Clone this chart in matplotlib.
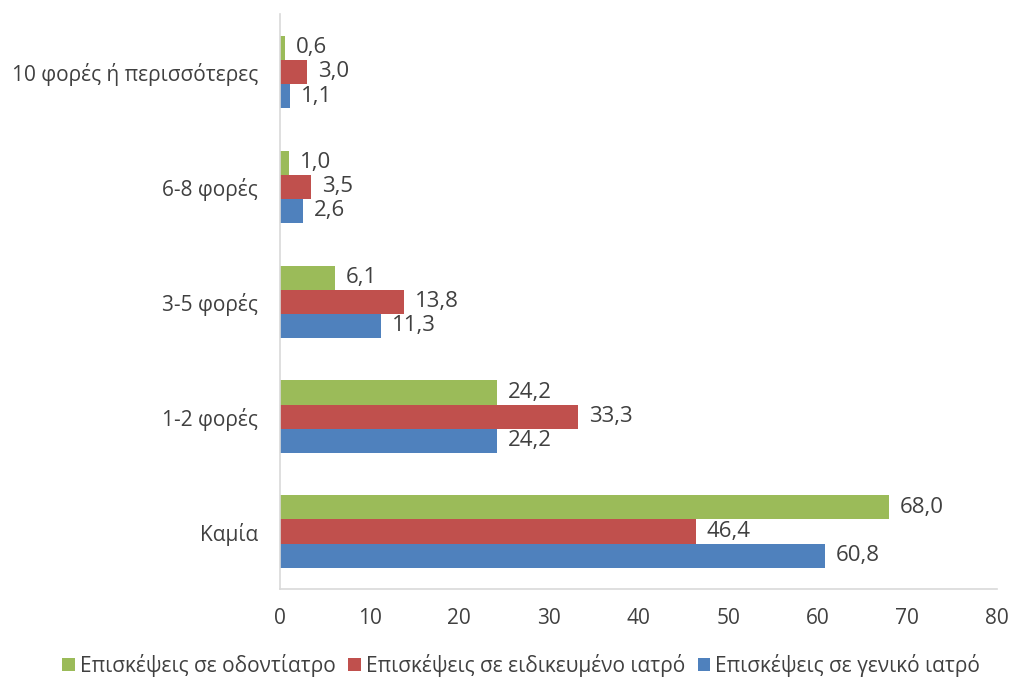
import numpy as np
import matplotlib
matplotlib.use('Agg')
import matplotlib.pyplot as plt

plt.rcParams['font.family'] = ['Open Sans', 'DejaVu Sans']

categories = ['Καμία', '1-2 φορές', '3-5 φορές', '6-8 φορές', '10 φορές ή περισσότερες']
general = [60.8, 24.2, 11.3, 2.6, 1.1]
specialist = [46.4, 33.3, 13.8, 3.5, 3.0]
dentist = [68.0, 24.2, 6.1, 1.0, 0.6]

series = [
    ('Επισκέψεις σε γενικό ιατρό', general, '#4F81BD'),
    ('Επισκέψεις σε ειδικευμένο ιατρό', specialist, '#C0504D'),
    ('Επισκέψεις σε οδοντίατρο', dentist, '#9BBB59'),
]

text_color = '#404040'
fig = plt.figure(figsize=(10.12, 6.86), dpi=100)
ax = fig.add_axes([0.2767, 0.1414, 0.7085, 0.8375])

y = np.arange(len(categories))
h = 0.21
for i, (name, vals, col) in enumerate(series):
    pos = y + (i - 1) * h
    bars = ax.barh(pos, vals, height=h, color=col, label=name)
    for b, v in zip(bars, vals):
        ax.text(v + 1.2, b.get_y() + h / 2, f'{v:.1f}'.replace('.', ','),
                va='center', ha='left', fontsize=16, color=text_color)

ax.set_xlim(0, 80)
ax.set_ylim(-0.5, len(categories) - 0.5)
ax.set_xticks(range(0, 81, 10))
ax.set_yticks(y)
ax.set_yticklabels(categories)
ax.tick_params(length=0, labelsize=15, colors=text_color)
ax.tick_params(axis='x', pad=14)
ax.tick_params(axis='y', pad=16)
for s in ['top', 'right']:
    ax.spines[s].set_visible(False)
for s in ['left', 'bottom']:
    ax.spines[s].set_color('#D9D9D9')
    ax.spines[s].set_linewidth(1.2)

handles, labels = ax.get_legend_handles_labels()
fig.legend(handles[::-1], labels[::-1], loc='center', bbox_to_anchor=(0.515, 0.03),
           ncol=3, frameon=False, fontsize=15, handlelength=0.6, handleheight=0.6,
           handletextpad=0.25, columnspacing=0.6, labelcolor=text_color)

fig.savefig('out.png', dpi=100)
